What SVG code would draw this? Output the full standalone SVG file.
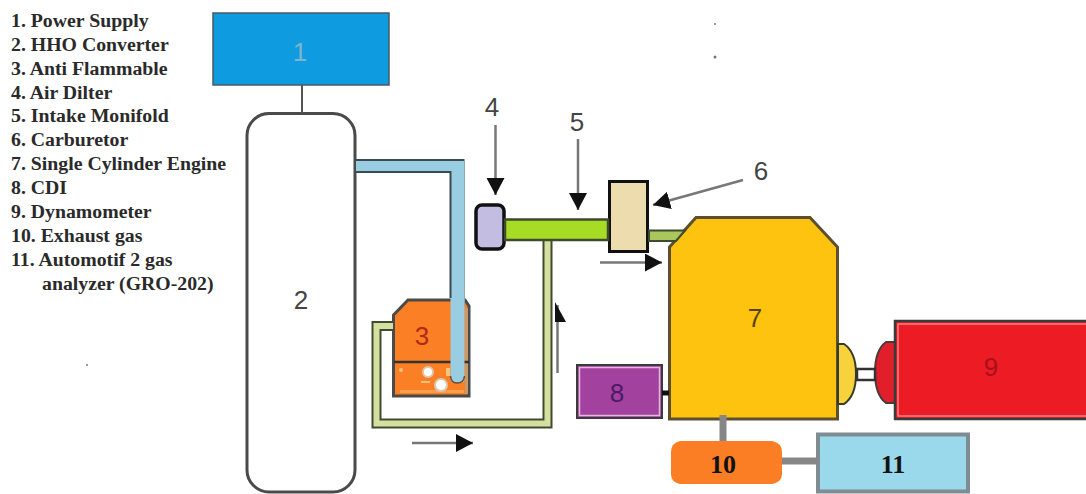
<svg xmlns="http://www.w3.org/2000/svg" width="1086" height="494" viewBox="0 0 1086 494">
  <style>
    .legend { font: bold 19.800px "Liberation Serif", serif; fill: #2a2a2a; }
    .num { font: 26px "Liberation Sans", sans-serif; text-anchor: middle; }
    .numb { font: bold 26px "Liberation Serif", serif; text-anchor: middle; fill: #111; }
    .box { stroke: #4a4a4a; stroke-width: 3; }
    .ann { stroke: #777; stroke-width: 2.500; fill: none; marker-end: url(#head); }
  </style>
  <defs>
    <marker id="head" markerUnits="userSpaceOnUse" markerWidth="18" markerHeight="18" refX="17" refY="9" orient="auto">
      <path d="M0 0 L17 9 L0 18 Z" fill="#111"/>
    </marker>
  </defs>
  <rect width="1086" height="494" fill="#fff"/>

  <g id="legend">
    <text class="legend" x="11" y="27">1. Power Supply</text>
    <text class="legend" x="11" y="51">2. HHO Converter</text>
    <text class="legend" x="11" y="75">3. Anti Flammable</text>
    <text class="legend" x="11" y="99">4. Air Dilter</text>
    <text class="legend" x="11" y="122">5. Intake Monifold</text>
    <text class="legend" x="11" y="146">6. Carburetor</text>
    <text class="legend" x="11" y="170">7. Single Cylinder Engine</text>
    <text class="legend" x="11" y="194">8. CDI</text>
    <text class="legend" x="11" y="218">9. Dynamometer</text>
    <text class="legend" x="11" y="242">10. Exhaust gas</text>
    <text class="legend" x="11" y="266">11. Automotif 2 gas</text>
    <text class="legend" x="42" y="290">analyzer (GRO-202)</text>
  </g>

  <g id="node-1">
    <rect x="213" y="13" width="176" height="72" fill="#0f9be0" stroke="#4a5a60" stroke-width="1.500"/>
    <text class="num" x="300" y="61" fill="#7fb4cf">1</text>
  </g>
  <g id="node-2">
    <rect class="box" x="247" y="113.500" width="108" height="378.500" rx="22" fill="#fff"/>
    <text class="num" x="301" y="309" fill="#444">2</text>
  </g>
  <g id="node-3">
    <path class="box" d="M393.500 315 L408 300 H465 L469 306 V396 H393.500 Z" fill="#fb7f24"/>
    <rect x="465" y="308" width="3" height="86" fill="#c79a6a"/>
    <line x1="394" y1="362" x2="469" y2="362" stroke="#333" stroke-width="2.500"/>
    <g fill="#f7c27a">
      <circle cx="401" cy="370" r="2"/>
      <rect x="421" y="381" width="9" height="2"/>
      <rect x="446" y="368" width="4" height="8"/>
      <rect x="400" y="390" width="64" height="3" opacity="0.500"/>
    </g>
    <circle cx="428" cy="372" r="5" fill="#fff" stroke="#d9c9b0" stroke-width="2"/>
    <circle cx="441" cy="385" r="6" fill="#fff" stroke="#d9c9b0" stroke-width="2"/>
    <text class="num" x="422" y="345" fill="#b02a14">3</text>
  </g>
  <g id="node-4">
    <rect x="476" y="205" width="28" height="44" rx="6" fill="#c4bde2" stroke="#111" stroke-width="3.500"/>
    <text class="num" x="492" y="116" fill="#444">4</text>
  </g>
  <g id="node-5">
    <text class="num" x="577" y="131" fill="#444">5</text>
  </g>
  <g id="node-6">
    <rect x="609.500" y="181.500" width="38" height="70" fill="#ecdcae" stroke="#111" stroke-width="3"/>
    <text class="num" x="761" y="180" fill="#444">6</text>
  </g>
  <g id="node-7">
    <path d="M669.500 247 L696 217.500 H810 L837.500 247 V419 H669.500 Z" fill="#fdc30f" stroke="#5a5030" stroke-width="3"/>
    <text class="num" x="755" y="327" fill="#5a4210">7</text>
  </g>
  <g id="node-8">
    <rect x="577" y="365" width="85" height="53" fill="#a3419f" stroke="#3a3a3a" stroke-width="2"/>
    <rect x="579.500" y="367.500" width="80" height="48" fill="none" stroke="#e3b6df" stroke-width="1.500"/>
    <text class="num" x="617" y="402" fill="#4c1a66">8</text>
  </g>
  <g id="node-9">
    <path d="M838 344 H844 Q856 352 856 374 Q856 396 844 404 H838 Z" fill="#f8d23c" stroke="#3a3a2a" stroke-width="2"/>
    <path d="M895 342 H886 Q875 350 875 372 Q875 395 886 403 H895 Z" fill="#e01f2b" stroke="#4a3a3a" stroke-width="2"/>
    <rect x="895" y="321" width="200" height="98" fill="#ed1c24" stroke="#3a3a3a" stroke-width="2.500"/>
    <rect x="898" y="324" width="200" height="92" fill="none" stroke="#f4848a" stroke-width="1.500"/>
    <text class="num" x="991" y="376" fill="#a8101c">9</text>
  </g>
  <g id="node-10">
    <path d="M680 441 H772 Q782 443 782 452 V474 Q782 482 772 484 H680 Q671 482 671 474 V452 Q671 443 680 441 Z" fill="#fb7d24"/>
    <text class="numb" x="723" y="473">10</text>
  </g>
  <g id="node-11">
    <rect x="818" y="434.500" width="150" height="57" fill="#9ad8ec" stroke="#7f8c92" stroke-width="4"/>
    <text class="numb" x="893" y="473">11</text>
  </g>

  <g id="connectors">
    <line x1="302" y1="85" x2="302" y2="113" stroke="#555" stroke-width="2"/>
    <path d="M356 160 H464.500 V379 Q464.500 383 460 383 H455 Q450.500 383 450.500 379 V172 H356 Z" fill="#98cde2"/>
    <path d="M356 172 H450.500 V298 M356 160 H464.500" fill="none" stroke="#3a4a50" stroke-width="2"/>
    <path d="M464.500 160 V306" fill="none" stroke="#8aa" stroke-width="1"/>
    <path d="M450.500 376 Q451 383 457 383 Q464 383 464.500 376" fill="none" stroke="#6a4a30" stroke-width="1.500"/>
    <path d="M393 326 H376.500 V423.500 H547.500 V241" fill="none" stroke="#3f4a30" stroke-width="10"/>
    <path d="M393 326 H376.500 V423.500 H547.500 V241" fill="none" stroke="#d5dfa0" stroke-width="6"/>
    <rect x="505" y="219.500" width="103" height="20.500" fill="#a7dc25" stroke="#3f4a30" stroke-width="2.500"/>
    <path d="M649 230.500 H685 L676 241 H649 Z" fill="#a9c75a" stroke="#3f4a30" stroke-width="2"/>
    <rect x="857" y="369" width="18" height="11" fill="#fff" stroke="#333" stroke-width="2.500"/>
    <line x1="662" y1="393" x2="669" y2="393" stroke="#111" stroke-width="5"/>
    <line x1="723" y1="415" x2="723" y2="441" stroke="#868686" stroke-width="7"/>
    <line x1="782" y1="461" x2="818" y2="461" stroke="#868686" stroke-width="7"/>
    <line class="ann" x1="495.500" y1="125" x2="495.500" y2="195"/>
    <line class="ann" x1="578" y1="139" x2="578" y2="210"/>
    <line class="ann" x1="743" y1="180" x2="653" y2="205"/>
    <line class="ann" x1="600" y1="262.500" x2="662" y2="262.500"/>
    <line class="ann" x1="412" y1="443" x2="473" y2="443"/>
    <line x1="557.500" y1="373" x2="557.500" y2="305" stroke="#777" stroke-width="2.500"/>
    <path d="M555 302 L566 322 H555 Z" fill="#111"/>
  </g>

  <g id="specks" fill="#777">
    <circle cx="715" cy="24" r="1"/>
    <circle cx="715" cy="57" r="1.500"/>
    <circle cx="87" cy="365" r="1"/>
  </g>
</svg>
